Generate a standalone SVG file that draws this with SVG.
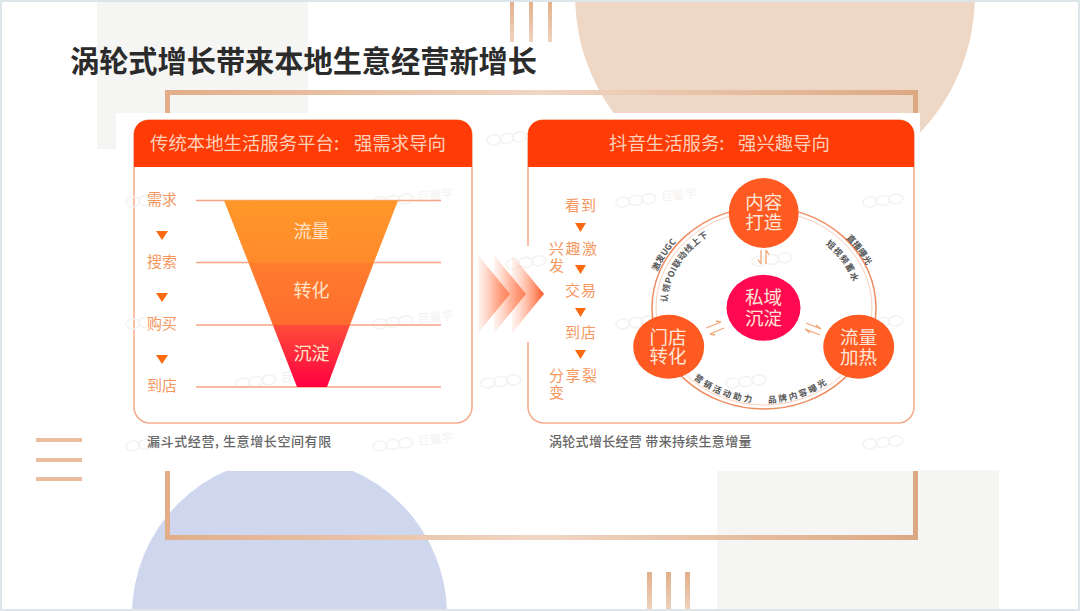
<svg xmlns="http://www.w3.org/2000/svg" xmlns:xlink="http://www.w3.org/1999/xlink" width="1080" height="611" viewBox="0 0 1080 611">
<style>
text{font-family:"Noto Sans CJK SC","Noto Sans",sans-serif}
.title{font-size:29.200px;font-weight:700;fill:#2b2b2b}
.hd{font-size:18.400px;fill:#ffcfb8}
.lb{font-size:15px;fill:#f5985f}
.fn{font-size:18px;fill:#ffe3c8;text-anchor:middle}
.cap{font-size:13px;fill:#666;font-weight:500}
.nd{font-size:18.500px;fill:#ffe6d8;text-anchor:middle}
.rt{font-size:8.600px;fill:#555;font-weight:700}
.bar{fill:url(#bar)}
.tri{fill:#fb6a10}
.gl{stroke:#f6a582;stroke-width:1.3;fill:none}
.da{stroke:#f2a678;stroke-width:1.3;fill:none}
.card{fill:#fff;stroke:#f5ad8f;stroke-width:1.6}
.hdr{fill:#ff3c06}
.wm ellipse{fill:none;stroke:#f5f3f1;stroke-width:1.6}
.wm text{font-size:12px;fill:#f5f2f0}
</style>
<defs>
<linearGradient id="bar" x1="0" y1="0" x2="0" y2="1"><stop offset="0" stop-color="#e2ae89"/><stop offset="1" stop-color="#efd3bf"/></linearGradient>
<linearGradient id="frame" gradientUnits="userSpaceOnUse" x1="165" y1="0" x2="918" y2="0"><stop offset="0" stop-color="#e2ad88"/><stop offset=".5" stop-color="#f0d6c3"/><stop offset="1" stop-color="#dca882"/></linearGradient>
<linearGradient id="f1" x1="0" y1="0" x2="0" y2="1"><stop offset="0" stop-color="#ff972a"/><stop offset="1" stop-color="#ff8a2b"/></linearGradient>
<linearGradient id="f2" x1="0" y1="0" x2="0" y2="1"><stop offset="0" stop-color="#ff7d2e"/><stop offset="1" stop-color="#ff6c2e"/></linearGradient>
<linearGradient id="f3" x1="0" y1="0" x2="0" y2="1"><stop offset="0" stop-color="#ff4d3a"/><stop offset="1" stop-color="#ff0040"/></linearGradient>
<linearGradient id="chev" x1="0" y1="0" x2="1" y2="0"><stop offset="0" stop-color="#ffb79f" stop-opacity=".15"/><stop offset=".55" stop-color="#ff9470" stop-opacity=".75"/><stop offset="1" stop-color="#ff5522"/></linearGradient>
<g id="wl" class="wm" transform="rotate(-7)">
<ellipse cx="8" cy="0" rx="7" ry="5"/><ellipse cx="21" cy="0" rx="7" ry="5"/><ellipse cx="34" cy="0" rx="7" ry="5"/>
</g>
<g id="wm" class="wm" transform="rotate(-7)">
<ellipse cx="8" cy="0" rx="7" ry="5"/><ellipse cx="21" cy="0" rx="7" ry="5"/><ellipse cx="34" cy="0" rx="7" ry="5"/>
<text x="46" y="4">巨量学</text>
</g>
</defs>

<g id="background">
<rect width="1080" height="611" fill="#fff"/>
<rect x="97" y="0" width="211" height="149" fill="#f5f5f3"/>
<rect x="717" y="470" width="282" height="141" fill="#f5f5f3"/>
<circle cx="775" cy="-5" r="200" fill="#eed7c5"/>
<circle cx="289.500" cy="615" r="157.500" fill="#cfd7ef"/>
<rect class="bar" x="510" y="0" width="4" height="42"/><rect class="bar" x="529" y="0" width="4" height="42"/><rect class="bar" x="548" y="0" width="4" height="42"/>
<rect class="bar" x="647" y="572" width="5" height="39"/><rect class="bar" x="666" y="572" width="5" height="39"/><rect class="bar" x="685" y="572" width="5" height="39"/>
<rect x="36" y="438" width="46" height="4" fill="#e9bd9d"/><rect x="36" y="458" width="46" height="4" fill="#e9bd9d"/><rect x="36" y="477" width="46" height="4" fill="#e9bd9d"/>
<rect x="167.500" y="92.500" width="748" height="445" fill="none" stroke="url(#frame)" stroke-width="5"/>
<rect x="116" y="113" width="804" height="358" fill="#fff"/>
<rect x="1" y="1" width="1078" height="609" fill="none" stroke="#dde5e8" stroke-width="2"/>
</g>

<g id="title"><text class="title" x="70" y="72">涡轮式增长带来本地生意经营新增长</text></g>

<g id="card-left">
<rect class="card" x="134" y="120" width="338" height="303" rx="16"/>
<path class="hdr" d="M134 167V134a14 14 0 0 1 14-14H458a14 14 0 0 1 14 14V167Z"/>
<text class="hd" x="150" y="150">传统本地生活服务平台:</text>
<text class="hd" x="354" y="150">强需求导向</text>
</g>

<g id="card-right">
<rect class="card" x="528" y="120" width="386" height="303" rx="16"/>
<path class="hdr" d="M528 167V134a14 14 0 0 1 14-14H900a14 14 0 0 1 14 14V167Z"/>
<rect x="525" y="246" width="6" height="96" fill="#fff"/>
<text class="hd" x="609" y="150">抖音生活服务:</text>
<text class="hd" x="738" y="150">强兴趣导向</text>
</g>

<g id="watermarks">
<use href="#wl" x="125" y="203"/><use href="#wm" x="372" y="203"/><use href="#wl" x="125" y="325"/><use href="#wm" x="372" y="325"/><use href="#wm" x="235" y="384"/><use href="#wl" x="125" y="447"/><use href="#wm" x="372" y="447"/>
<use href="#wl" x="486" y="141"/><use href="#wm" x="615" y="203"/><use href="#wl" x="862" y="203"/><use href="#wl" x="505" y="265"/><use href="#wl" x="751" y="262"/><use href="#wl" x="615" y="325"/><use href="#wl" x="862" y="325"/><use href="#wl" x="480" y="384"/><use href="#wl" x="725" y="384"/><use href="#wl" x="862" y="445"/>
</g>

<g id="captions">
<text class="cap" x="147" y="446" letter-spacing=".6">漏斗式经营, 生意增长空间有限</text>
<text class="cap" x="549" y="446" letter-spacing=".3">涡轮式增长经营 带来持续生意增量</text>
</g>

<g id="connectors">
<path class="gl" d="M196 200.500H441M196 262.500H441M196 325H441M196 387H441"/>
<ellipse cx="764" cy="308" rx="112" ry="101" fill="none" stroke="#f08c62" stroke-width="1.5"/>
<ellipse cx="764" cy="308" rx="108" ry="97" fill="none" stroke="#fbd0ba" stroke-width="1"/>
<path class="da" d="M761 250V264M758 259.500L761 264M766 264V250M769 254.500L766 250"/>
<path class="da" d="M706 328L721 322M721 322L716 321M710 334L724 328M710 334L715 335"/>
<path class="da" d="M806 323L821 329M821 329L816 325M805 329L820 335M805 329L810 333"/>
</g>

<g id="funnel">
<polygon points="224,200.500 398,200.500 373.700,263 248.600,263" fill="url(#f1)"/>
<polygon points="248.600,263 373.700,263 350,325 272.800,325" fill="url(#f2)"/>
<polygon points="272.800,325 350,325 327,387 297,387" fill="url(#f3)"/>
<text class="fn" x="311.500" y="238">流量</text><text class="fn" x="311.500" y="297">转化</text><text class="fn" x="311.500" y="360">沉淀</text>
</g>

<g id="steps-left">
<text class="lb" x="147" y="205">需求</text><text class="lb" x="147" y="267">搜索</text><text class="lb" x="147" y="329">购买</text><text class="lb" x="147" y="391">到店</text>
<polygon class="tri" points="156,231 168,231 162,240"/><polygon class="tri" points="156,293 168,293 162,302"/><polygon class="tri" points="156,355 168,355 162,364"/>
</g>

<g id="chevrons">
<polygon points="478,255 510,294 478,333" fill="url(#chev)"/>
<polygon points="494,255 526,294 494,333" fill="url(#chev)"/>
<polygon points="512,255 544,294 512,333" fill="url(#chev)"/>
</g>

<g id="steps-right">
<text class="lb" x="565" y="211" letter-spacing="1">看到</text>
<text class="lb" x="549" y="254" letter-spacing="1.500">兴趣激</text><text class="lb" x="549" y="271">发</text>
<text class="lb" x="565" y="296" letter-spacing="1">交易</text>
<text class="lb" x="565" y="338" letter-spacing="1">到店</text>
<text class="lb" x="549" y="381" letter-spacing="1.500">分享裂</text><text class="lb" x="549" y="398">变</text>
<polygon class="tri" points="575,223 586,223 580.500,232"/><polygon class="tri" points="575,265 586,265 580.500,274"/><polygon class="tri" points="575,308 586,308 580.500,317"/><polygon class="tri" points="575,350 586,350 580.500,359"/>
</g>

<g id="ring-labels">
<path id="p1" d="M657.300 271.800A114 103 0 0 1 680 238.400" fill="none"/>
<path id="p2" d="M667.200 302.400A97 87.400 0 0 1 711.100 234.700" fill="none"/>
<path id="p3" d="M845.900 238.200A113 101.500 0 0 1 866.600 265.400" fill="none"/>
<path id="p4" d="M825.400 244.400A93.500 84.300 0 0 1 852.700 281.500" fill="none"/>
<path id="p5" d="M693.700 378.600A105 95 0 0 0 756.900 402.800" fill="none"/>
<path id="p6" d="M768.200 402.900A105 95 0 0 0 829.800 382" fill="none"/>
<text class="rt"><textPath href="#p1">激发UGC</textPath></text>
<text class="rt" letter-spacing=".6"><textPath href="#p2">认领POI联动线上下</textPath></text>
<text class="rt"><textPath href="#p3">直播曝光</textPath></text>
<text class="rt" letter-spacing="1"><textPath href="#p4">短视频蓄水</textPath></text>
<text class="rt" letter-spacing="2.400"><textPath href="#p5">营销活动助力</textPath></text>
<text class="rt" letter-spacing="2.200"><textPath href="#p6">品牌内容曝光</textPath></text>
</g>

<g id="node-content"><circle cx="763.700" cy="213" r="35" fill="#ff5a22"/><text class="nd" x="763.700" y="209">内容</text><text class="nd" x="763.700" y="229">打造</text></g>
<g id="node-private"><ellipse cx="763.500" cy="307.700" rx="37" ry="33" fill="#ff0a50"/><text class="nd" x="763.500" y="304">私域</text><text class="nd" x="763.500" y="325">沉淀</text></g>
<g id="node-store"><ellipse cx="668.700" cy="346.700" rx="35.500" ry="32" fill="#ff5a22"/><text class="nd" x="668" y="344">门店</text><text class="nd" x="668" y="363">转化</text></g>
<g id="node-traffic"><ellipse cx="858.700" cy="346.700" rx="35.500" ry="32" fill="#ff5a22"/><text class="nd" x="858.500" y="344">流量</text><text class="nd" x="858.500" y="364">加热</text></g>
</svg>
